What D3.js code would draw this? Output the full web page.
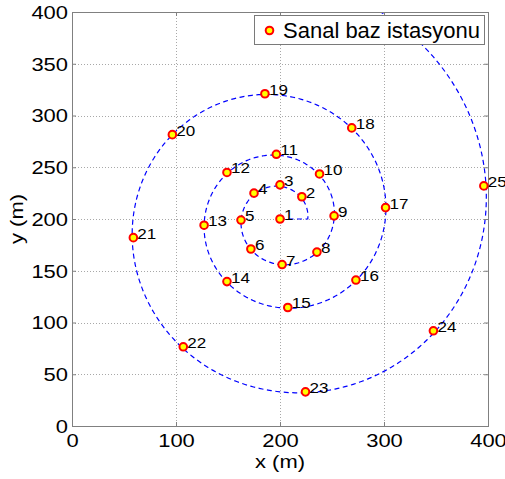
<!DOCTYPE html>
<html>
<head>
<meta charset="utf-8">
<script src="https://cdn.jsdelivr.net/npm/d3@7"></script>
<style>
  body { margin: 0; background: #ffffff; }
  text { font-family: "Liberation Sans", Arial, Helvetica, sans-serif; fill: #000; }
</style>
</head>
<body>
<svg id="chart" width="505" height="479"></svg>
<script>
// Virtual base station positions (metres)
const stationLabels = ["1","2","3","4","5","6","7","8","9","10","11","12","13",
                       "14","15","16","17","18","19","20","21","22","23","24","25"];
const stationX = [200, 221, 200, 175, 162.5, 172, 202, 235.5, 252, 238, 196.5, 149, 127,
                  149, 207.5, 273, 301.5, 269, 185.5, 96.5, 59, 107, 224.5, 347.5, 396];
const stationY = [200, 221.5, 233, 225, 199, 171, 156, 168, 203, 243.5, 262.5, 245, 194,
                  139.5, 114.5, 141, 211, 288, 321, 281.5, 182, 76.5, 33, 92, 232];

// Axis ticks
const xTickValues = [0, 100, 200, 300, 400];
const yTickValues = [0, 50, 100, 150, 200, 250, 300, 350, 400];

// Logarithmic spiral the stations sit on: r = r0 * exp(growth * theta)
const spiralCenter = [200, 200];
const spiralStartRadius = 26.7;
const spiralGrowth = 0.1061;
const spiralEndAngle = 6.6 * Math.PI;

const legendLabel = "Sanal baz istasyonu";
const xLabel = "x (m)";
const yLabel = "y (m)";

// Layout
const plot = { left: 72, top: 12, right: 488, bottom: 426 };
const axisColor = "#808080";
const tickFont = 18, tickStretch = 1.22;

const svg = d3.select("#chart");
svg.append("rect").attr("width", 505).attr("height", 479).attr("fill", "#fff");

const x = d3.scaleLinear().domain([0, 400]).range([plot.left, plot.right]);
const y = d3.scaleLinear().domain([0, 400]).range([plot.bottom, plot.top]);

// Dotted grid
const grid = svg.append("g")
  .attr("stroke", "#a8a8a8")
  .attr("stroke-width", 1)
  .attr("stroke-dasharray", "1,2");
grid.selectAll("line.gx")
  .data(xTickValues.filter(v => v > 0 && v < 400))
  .join("line").attr("class", "gx")
  .attr("x1", d => x(d) + 0.5).attr("x2", d => x(d) + 0.5)
  .attr("y1", plot.top).attr("y2", plot.bottom);
grid.selectAll("line.gy")
  .data(yTickValues.filter(v => v > 0 && v < 400))
  .join("line").attr("class", "gy")
  .attr("y1", d => Math.round(y(d)) + 0.5).attr("y2", d => Math.round(y(d)) + 0.5)
  .attr("x1", plot.left).attr("x2", plot.right);

// Clip for the spiral
svg.append("clipPath").attr("id", "plotClip")
  .append("rect")
  .attr("x", plot.left).attr("y", plot.top)
  .attr("width", plot.right - plot.left).attr("height", plot.bottom - plot.top);

// Spiral path: starts at the centre, then winds outward counter-clockwise
const spiralPts = [spiralCenter];
const steps = 1200;
for (let i = 0; i <= steps; i++) {
  const t = spiralEndAngle * i / steps;
  const r = spiralStartRadius * Math.exp(spiralGrowth * t);
  spiralPts.push([spiralCenter[0] + r * Math.cos(t), spiralCenter[1] + r * Math.sin(t)]);
}
svg.append("path")
  .datum(spiralPts)
  .attr("clip-path", "url(#plotClip)")
  .attr("fill", "none")
  .attr("stroke", "#0000ff")
  .attr("stroke-width", 1.2)
  .attr("stroke-dasharray", "5,3.5")
  .attr("d", d3.line().x(d => x(d[0])).y(d => y(d[1])));

// Axes (ticks point inward, box on all four sides)
function styleAxis(g, withText) {
  g.select(".domain").remove();
  g.selectAll(".tick line").attr("stroke", axisColor);
  if (!withText) g.selectAll(".tick text").remove();
  g.selectAll(".tick text")
    .attr("font-size", tickFont)
    .attr("fill", "#000")
    .attr("transform", `scale(${tickStretch},1)`);
}
svg.append("g")
  .attr("transform", `translate(0,${plot.bottom})`)
  .call(d3.axisBottom(x).tickValues(xTickValues).tickSizeInner(-4).tickSizeOuter(0).tickPadding(8.5))
  .call(g => styleAxis(g, true));
svg.append("g")
  .attr("transform", `translate(0,${plot.top})`)
  .call(d3.axisTop(x).tickValues(xTickValues).tickSizeInner(-4).tickSizeOuter(0))
  .call(g => styleAxis(g, false));
svg.append("g")
  .attr("transform", `translate(${plot.left},0)`)
  .call(d3.axisLeft(y).tickValues(yTickValues).tickSizeInner(-4).tickSizeOuter(0).tickPadding(4 / tickStretch))
  .call(g => styleAxis(g, true))
  .selectAll(".tick text").attr("dy", "0.36em");
svg.append("g")
  .attr("transform", `translate(${plot.right},0)`)
  .call(d3.axisRight(y).tickValues(yTickValues).tickSizeInner(-4).tickSizeOuter(0))
  .call(g => styleAxis(g, false));
svg.selectAll("g.tick text").attr("font-family", null);

svg.append("rect")
  .attr("x", plot.left + 0.5).attr("y", plot.top + 0.5)
  .attr("width", plot.right - plot.left).attr("height", plot.bottom - plot.top)
  .attr("fill", "none").attr("stroke", axisColor).attr("stroke-width", 1);

// Station markers and labels
const stations = stationLabels.map((lab, i) => ({ lab, sx: stationX[i], sy: stationY[i] }));
svg.append("g").selectAll("circle")
  .data(stations).join("circle")
  .attr("cx", d => x(d.sx)).attr("cy", d => y(d.sy))
  .attr("r", 3.8)
  .attr("fill", "#ffff00").attr("stroke", "#ff0000").attr("stroke-width", 2);
svg.append("g").selectAll("text")
  .data(stations).join("text")
  .attr("transform", d => `translate(${x(d.sx) + 4},${y(d.sy) + 1}) scale(1.1,1)`)
  .attr("font-size", 15.5)
  .text(d => d.lab);

// Axis labels
svg.append("text")
  .attr("transform", `translate(${(plot.left + plot.right) / 2},467.5) scale(${tickStretch},1)`)
  .attr("text-anchor", "middle").attr("font-size", tickFont)
  .text(xLabel);
svg.append("text")
  .attr("transform", `translate(22.5,${(plot.top + plot.bottom) / 2}) rotate(-90) scale(${tickStretch},1)`)
  .attr("text-anchor", "middle").attr("font-size", tickFont)
  .text(yLabel);

// Legend
const legend = svg.append("g");
legend.append("rect")
  .attr("x", 254.5).attr("y", 15.5).attr("width", 230).attr("height", 29)
  .attr("fill", "#fff").attr("stroke", "#7a7a7a").attr("stroke-width", 1);
legend.append("circle")
  .attr("cx", 269.5).attr("cy", 30.5).attr("r", 3.8)
  .attr("fill", "#ffff00").attr("stroke", "#ff0000").attr("stroke-width", 2);
legend.append("text")
  .attr("x", 283).attr("y", 37.5)
  .attr("font-size", 22)
  .text(legendLabel);
</script>
</body>
</html>
